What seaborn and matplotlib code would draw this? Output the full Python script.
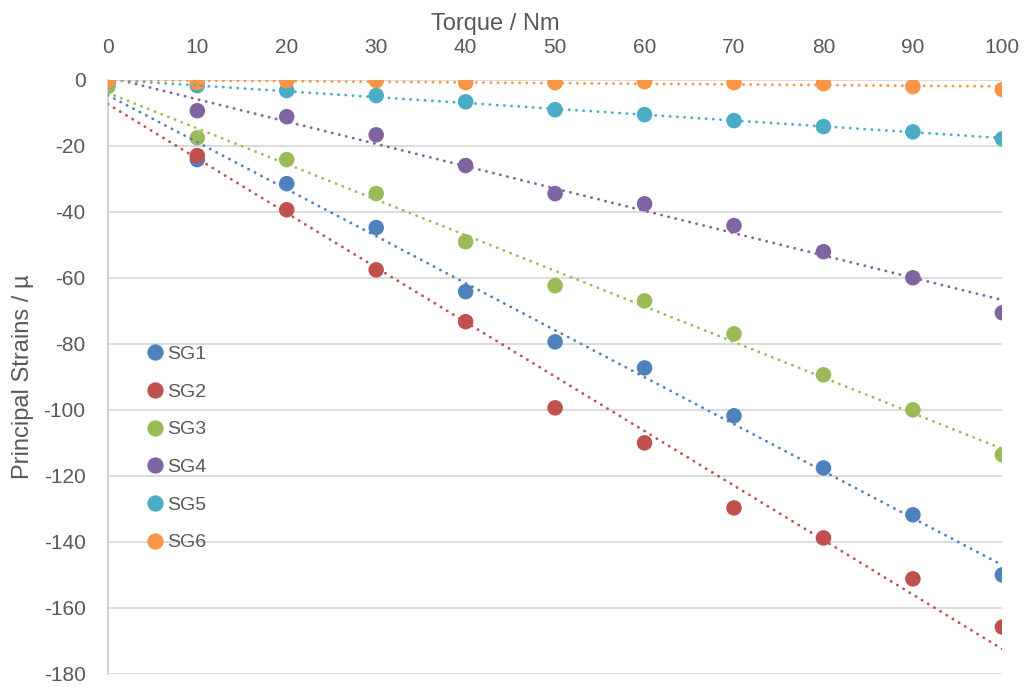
import matplotlib
matplotlib.use("Agg")
import matplotlib.pyplot as plt
import numpy as np
import pandas as pd
import seaborn as sns

TORQUE = [0, 10, 20, 30, 40, 50, 60, 70, 80, 90, 100]
SG1 = [-2.0, -24.2, -31.5, -44.8, -64.2, -79.4, -87.3, -101.8, -117.6, -131.8, -150.0]
SG2 = [-1.0, -23.0, -39.4, -57.6, -73.3, -99.4, -110.0, -129.7, -138.8, -151.2, -165.8]
SG3 = [-2.0, -17.6, -24.2, -34.5, -49.1, -62.4, -67.0, -77.0, -89.4, -100.0, -113.6]
SG4 = [-0.3, -9.4, -11.2, -16.7, -26.0, -34.5, -37.6, -44.2, -52.1, -60.0, -70.6]
SG5 = [-0.5, -1.8, -3.3, -4.8, -6.7, -9.1, -10.6, -12.4, -14.2, -15.8, -17.9]
SG6 = [-0.3, -0.9, -0.3, -0.3, -0.9, -0.9, -0.6, -0.9, -1.2, -2.1, -3.0]
SERIES = ["SG1", "SG2", "SG3", "SG4", "SG5", "SG6"]
COLORS = ["#4F81BD", "#C0504D", "#9BBB59", "#8064A2", "#4BACC6", "#F79646"]
TEXT = "#595959"
GRID = "#D9D9D9"


def build_frame():
    values = [SG1, SG2, SG3, SG4, SG5, SG6]
    parts = []
    for name, ys in zip(SERIES, values):
        parts.append(pd.DataFrame({"torque": TORQUE, "strain": ys, "gauge": name}))
    return pd.concat(parts, ignore_index=True)


def main():
    sns.set_theme(style="white")
    plt.rcParams["font.family"] = ["Liberation Sans", "DejaVu Sans"]
    plt.rcParams["axes.unicode_minus"] = False
    df = build_frame()

    fig = plt.figure(figsize=(10.27, 6.87), dpi=100)
    ax = fig.add_axes([0.105, 0.019, 0.871, 0.865])

    for y in range(-180, 1, 20):
        ax.axhline(y, color=GRID, lw=1.3, zorder=0)

    palette = dict(zip(SERIES, COLORS))
    sns.scatterplot(data=df, x="torque", y="strain", hue="gauge", palette=palette,
                    s=125, edgecolor="none", ax=ax, zorder=3)

    for name in SERIES:
        sub = df[df["gauge"] == name]
        sns.regplot(data=sub, x="torque", y="strain", ax=ax, scatter=False, ci=None,
                    line_kws=dict(color=palette[name], lw=2.0, ls=(0, (0.1, 2.5)),
                                  dash_capstyle="round", zorder=4))

    ax.set_xlim(0, 100)
    ax.set_ylim(-180, 0)
    ax.set_xticks(TORQUE)
    ax.set_yticks(range(-180, 1, 20))
    ax.xaxis.tick_top()
    ax.xaxis.set_label_position("top")
    ax.tick_params(axis="both", length=0, labelsize=15, colors=TEXT)
    ax.tick_params(axis="x", pad=16)
    ax.tick_params(axis="y", pad=16)
    ax.set_xlabel("Torque / Nm", fontsize=17, color=TEXT)
    ax.xaxis.set_label_coords(0.433, 1.083)
    ax.set_ylabel("Principal Strains / µ", fontsize=17, color=TEXT, labelpad=7)

    for side in ["right", "bottom", "top"]:
        ax.spines[side].set_visible(False)
    ax.spines["left"].set_color("#CFCFCF")
    ax.spines["left"].set_linewidth(1.3)

    leg = ax.legend(frameon=False, loc="upper left", bbox_to_anchor=(0.0215, 0.582),
                    fontsize=14, handletextpad=0.05, labelspacing=1.03,
                    handlelength=1.1, markerscale=1.05)
    for t in leg.get_texts():
        t.set_color(TEXT)

    fig.savefig("out.png", dpi=100)
    plt.close(fig)


if __name__ == "__main__":
    main()
